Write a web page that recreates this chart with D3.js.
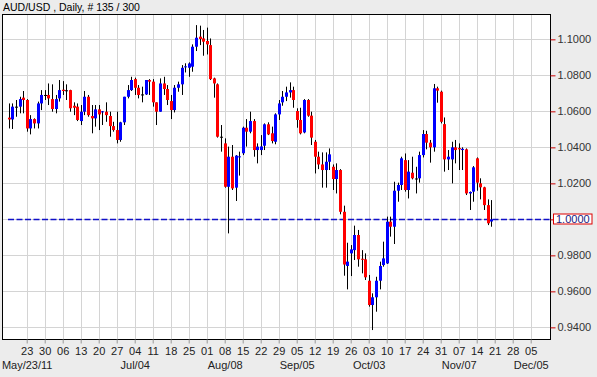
<!DOCTYPE html>
<html>
<head>
<meta charset="utf-8">
<script src="https://cdn.jsdelivr.net/npm/d3@7"></script>
<style>
  body { margin: 0; background: #ececec; }
  text { font-family: 'Liberation Sans', Arial, sans-serif; font-size: 11px; }
</style>
</head>
<body>
<div id="chart"></div>
<script>
const title = 'AUD/USD , Daily, # 135 / 300';
const firstDay = '2011-05-16';
const priceTicks = [0.94, 0.96, 0.98, 1.00, 1.02, 1.04, 1.06, 1.08, 1.10];
const bidPrice = 1.0000;
const majorLabels = ['May/23/11', 'Jul/04', 'Aug/08', 'Sep/05', 'Oct/03', 'Nov/07', 'Dec/05'];

// daily bars, one per weekday from May 16 to Nov 18
const open = [
  1.0565, 1.0555, 1.0626, 1.0626, 1.0676, 1.0663, 1.0505, 1.0557, 1.0533, 1.0644,
  1.0691, 1.0691, 1.0668, 1.0613, 1.0672, 1.0720, 1.0717, 1.0718, 1.0631, 1.0626,
  1.0546, 1.0598, 1.0681, 1.0574, 1.0561, 1.0611, 1.0596, 1.0598, 1.0574, 1.0518,
  1.0496, 1.0441, 1.0539, 1.0681, 1.0718, 1.0779, 1.0731, 1.0694, 1.0694, 1.0774,
  1.0765, 1.0650, 1.0598, 1.0755, 1.0724, 1.0657, 1.0607, 1.0731, 1.0750, 1.0846,
  1.0842, 1.0848, 1.0959, 1.1015, 1.1005, 1.0991, 1.0968, 1.0783, 1.0750, 1.0459,
  1.0422, 1.0181, 1.0348, 1.0176, 1.0346, 1.0367, 1.0509, 1.0487, 1.0546, 1.0385,
  1.0385, 1.0409, 1.0528, 1.0478, 1.0431, 1.0583, 1.0650, 1.0681, 1.0705, 1.0718,
  1.0602, 1.0552, 1.0483, 1.0663, 1.0576, 1.0431, 1.0348, 1.0305, 1.0274, 1.0320,
  1.0292, 1.0224, 1.0274, 1.0042, 0.9741, 0.9811, 0.9829, 0.9913, 0.9781, 0.9778,
  0.9659, 0.9524, 0.9567, 0.9659, 0.9746, 0.9755, 0.9987, 0.9959, 1.0159, 1.0191,
  1.0329, 1.0163, 1.0259, 1.0227, 1.0228, 1.0357, 1.0474, 1.0426, 1.0400, 1.0728,
  1.0709, 1.0529, 1.0333, 1.0333, 1.0400, 1.0396, 1.0385, 1.0389, 1.0144, 1.0154,
  1.0339, 1.0200, 1.0178, 1.0079, 0.9988
];
const high = [
  1.0644, 1.0644, 1.0663, 1.0681, 1.0713, 1.0668, 1.0579, 1.0561, 1.0654, 1.0718,
  1.0718, 1.0755, 1.0750, 1.0691, 1.0774, 1.0768, 1.0750, 1.0720, 1.0650, 1.0644,
  1.0635, 1.0713, 1.0691, 1.0635, 1.0635, 1.0635, 1.0602, 1.0650, 1.0598, 1.0542,
  1.0598, 1.0542, 1.0681, 1.0746, 1.0792, 1.0787, 1.0746, 1.0737, 1.0774, 1.0779,
  1.0779, 1.0650, 1.0783, 1.0792, 1.0746, 1.0691, 1.0746, 1.0765, 1.0857, 1.0867,
  1.0872, 1.0972, 1.1079, 1.1076, 1.1052, 1.1065, 1.1005, 1.0787, 1.0755, 1.0524,
  1.0450, 1.0404, 1.0413, 1.0357, 1.0376, 1.0515, 1.0557, 1.0598, 1.0557, 1.0422,
  1.0468, 1.0533, 1.0539, 1.0515, 1.0589, 1.0663, 1.0713, 1.0737, 1.0761, 1.0737,
  1.0617, 1.0620, 1.0668, 1.0668, 1.0598, 1.0441, 1.0376, 1.0372, 1.0372, 1.0394,
  1.0305, 1.0311, 1.0279, 1.0076, 0.9870, 0.9857, 0.9965, 0.9941, 0.9829, 0.9811,
  0.9691, 0.9589, 0.9681, 0.9765, 0.9876, 1.0015, 1.0015, 1.0209, 1.0204, 1.0348,
  1.0366, 1.0329, 1.0348, 1.0292, 1.0376, 1.0496, 1.0492, 1.0441, 1.0752, 1.0737,
  1.0715, 1.0566, 1.0385, 1.0431, 1.0441, 1.0422, 1.0400, 1.0394, 1.0155, 1.0296,
  1.0344, 1.0228, 1.0181, 1.0111, 1.0107
];
const low = [
  1.0505, 1.0502, 1.0570, 1.0589, 1.0589, 1.0487, 1.0472, 1.0505, 1.0505, 1.0607,
  1.0663, 1.0635, 1.0598, 1.0589, 1.0654, 1.0691, 1.0663, 1.0598, 1.0579, 1.0546,
  1.0524, 1.0579, 1.0570, 1.0478, 1.0515, 1.0496, 1.0524, 1.0542, 1.0459, 1.0487,
  1.0422, 1.0431, 1.0524, 1.0672, 1.0713, 1.0691, 1.0672, 1.0650, 1.0691, 1.0691,
  1.0626, 1.0524, 1.0598, 1.0691, 1.0635, 1.0557, 1.0594, 1.0709, 1.0691, 1.0816,
  1.0792, 1.0820, 1.0935, 1.0968, 1.0909, 1.0916, 1.0774, 1.0676, 1.0454, 1.0376,
  1.0176, 0.9922, 1.0163, 1.0102, 1.0243, 1.0357, 1.0404, 1.0478, 1.0348, 1.0311,
  1.0357, 1.0385, 1.0468, 1.0422, 1.0417, 1.0552, 1.0631, 1.0657, 1.0676, 1.0620,
  1.0509, 1.0472, 1.0478, 1.0570, 1.0413, 1.0255, 1.0279, 1.0176, 1.0176, 1.0274,
  1.0163, 1.0144, 1.0028, 0.9687, 0.9611, 0.9685, 0.9774, 0.9737, 0.9700, 0.9663,
  0.9515, 0.9385, 0.9487, 0.9611, 0.9737, 0.9752, 0.9904, 0.9863, 1.0098, 1.0163,
  1.0154, 1.0116, 1.0222, 1.0144, 1.0204, 1.0344, 1.0389, 1.0315, 1.0376, 1.0648,
  1.0533, 1.0265, 1.0274, 1.0200, 1.0311, 1.0274, 1.0274, 1.0135, 1.0052, 1.0098,
  1.0159, 1.0111, 1.0052, 0.9968, 0.9959
];
const close = [
  1.0555, 1.0626, 1.0626, 1.0668, 1.0663, 1.0505, 1.0557, 1.0533, 1.0644, 1.0691,
  1.0691, 1.0672, 1.0613, 1.0668, 1.0718, 1.0713, 1.0717, 1.0617, 1.0620, 1.0552,
  1.0598, 1.0681, 1.0579, 1.0561, 1.0611, 1.0583, 1.0600, 1.0579, 1.0518, 1.0496,
  1.0441, 1.0539, 1.0681, 1.0718, 1.0774, 1.0731, 1.0691, 1.0694, 1.0774, 1.0765,
  1.0650, 1.0598, 1.0755, 1.0724, 1.0663, 1.0607, 1.0731, 1.0750, 1.0842, 1.0850,
  1.0866, 1.0959, 1.1009, 1.1002, 1.0987, 1.0972, 1.0779, 1.0755, 1.0459, 1.0459,
  1.0181, 1.0348, 1.0172, 1.0354, 1.0350, 1.0509, 1.0487, 1.0546, 1.0385, 1.0404,
  1.0405, 1.0528, 1.0472, 1.0435, 1.0583, 1.0644, 1.0681, 1.0705, 1.0718, 1.0663,
  1.0552, 1.0478, 1.0663, 1.0576, 1.0454, 1.0348, 1.0305, 1.0274, 1.0320, 1.0361,
  1.0224, 1.0274, 1.0042, 0.9749, 0.9765, 0.9833, 0.9913, 0.9778, 0.9776, 0.9678,
  0.9524, 0.9567, 0.9659, 0.9741, 0.9783, 0.9987, 0.9959, 1.0159, 1.0191, 1.0339,
  1.0163, 1.0265, 1.0228, 1.0227, 1.0357, 1.0474, 1.0426, 1.0400, 1.0728, 1.0715,
  1.0542, 1.0333, 1.0348, 1.0400, 1.0385, 1.0389, 1.0392, 1.0144, 1.0152, 1.0289,
  1.0204, 1.0178, 1.0079, 0.9978, 1.0000
];

const width = 597;
const height = 377;
const plot = { left: 2.5, right: 550.5, top: 14.5, bottom: 339.5 };

const bars = close.map((c, i) => ({ i, o: open[i], h: high[i], l: low[i], c }));

// trading calendar: weekdays only, running past the last bar for the Dec tick
const start = d3.timeParse('%Y-%m-%d')(firstDay);
const days = d3.timeDay.range(start, d3.timeDay.offset(start, 220))
  .filter(d => d.getDay() > 0 && d.getDay() < 6);

const x = d3.scaleLinear()
  .domain([0, bars.length - 1])
  .range([8.7, 491.1]);

const y = d3.scaleLinear()
  .domain([0.93325, 1.11380])
  .range([plot.bottom, plot.top]);

// Mondays, May 23 .. Dec 05
const weekTicks = d3.range(5, 146, 5);
const fmtDay = d3.timeFormat('%d');
const fmtMajor = d3.timeFormat('%b/%d');
const fmtFirst = d3.timeFormat('%b/%d/%y');

const svg = d3.select('#chart')
  .append('svg')
  .attr('width', width)
  .attr('height', height);

svg.append('rect')
  .attr('width', width)
  .attr('height', height)
  .attr('fill', '#ececec');

svg.append('rect')
  .attr('x', plot.left)
  .attr('y', plot.top)
  .attr('width', plot.right - plot.left)
  .attr('height', plot.bottom - plot.top)
  .attr('fill', '#ffffff');

// grid
svg.append('g')
  .selectAll('line')
  .data(priceTicks)
  .enter()
  .append('line')
  .attr('x1', plot.left)
  .attr('x2', plot.right)
  .attr('y1', d => Math.round(y(d)) + 0.5)
  .attr('y2', d => Math.round(y(d)) + 0.5)
  .style('stroke', '#d4d4d4')
  .style('stroke-width', '1px');

svg.append('g')
  .selectAll('line')
  .data(weekTicks)
  .enter()
  .append('line')
  .attr('x1', d => Math.round(x(d)) + 0.5)
  .attr('x2', d => Math.round(x(d)) + 0.5)
  .attr('y1', plot.top)
  .attr('y2', plot.bottom)
  .style('stroke', '#d4d4d4')
  .style('stroke-width', '1px');

// bid line
svg.append('line')
  .attr('x1', 8)
  .attr('x2', plot.right)
  .attr('y1', Math.round(y(bidPrice)) + 0.5)
  .attr('y2', Math.round(y(bidPrice)) + 0.5)
  .style('stroke', '#1010c8')
  .style('stroke-width', '1.3px')
  .style('stroke-dasharray', '6,2.5');

// candles
const candle = svg.append('g')
  .selectAll('g')
  .data(bars)
  .enter()
  .append('g');

candle.append('line')
  .attr('x1', d => Math.round(x(d.i)) + 0.5)
  .attr('x2', d => Math.round(x(d.i)) + 0.5)
  .attr('y1', d => y(d.h))
  .attr('y2', d => y(d.l))
  .style('stroke', '#000')
  .style('stroke-width', '1px');

candle.append('rect')
  .attr('x', d => Math.round(x(d.i)) - 1)
  .attr('width', 3)
  .attr('y', d => y(Math.max(d.o, d.c)))
  .attr('height', d => Math.max(1, Math.abs(y(d.o) - y(d.c))))
  .attr('fill', d => d.c > d.o ? '#0000ff' : (d.c < d.o ? '#ff0000' : '#000'));

// frame
svg.append('rect')
  .attr('x', plot.left)
  .attr('y', plot.top)
  .attr('width', plot.right - plot.left)
  .attr('height', plot.bottom - plot.top)
  .attr('fill', 'none')
  .style('stroke', '#000')
  .style('stroke-width', '1px');

// right price axis
const yAxis = svg.append('g')
  .attr('transform', 'translate(' + plot.right + ',0)')
  .call(d3.axisRight(y).tickValues(priceTicks).tickFormat(d3.format('.4f')).tickSize(5).tickPadding(2));
yAxis.select('.domain').remove();
yAxis.selectAll('.tick line').attr('stroke', '#cc0000');
yAxis.selectAll('.tick text')
  .attr('fill', '#333')
  .style('font-size', '11px')
  .style('font-family', "'Liberation Sans', Arial, sans-serif");

// bid price box
const bidY = Math.round(y(bidPrice));
yAxis.append('rect')
  .attr('x', 3)
  .attr('y', bidY - 5)
  .attr('width', 38.5)
  .attr('height', 10)
  .attr('fill', '#ffffff')
  .style('stroke', '#dd0000')
  .style('stroke-width', '1px');
yAxis.append('text')
  .attr('x', 5.5)
  .attr('y', bidY + 4)
  .attr('fill', '#202080')
  .text(d3.format('.4f')(bidPrice));

// bottom date axis
const xAxis = svg.append('g')
  .attr('transform', 'translate(0,' + plot.bottom + ')')
  .call(d3.axisBottom(x).tickValues(weekTicks).tickFormat(i => fmtDay(days[i])).tickSize(4));
xAxis.select('.domain').remove();
xAxis.selectAll('.tick line').attr('stroke', '#999');
xAxis.selectAll('.tick text')
  .attr('y', 7.5)
  .attr('fill', '#222')
  .style('font-size', '11px')
  .style('font-family', "'Liberation Sans', Arial, sans-serif");

const majors = weekTicks.filter(i =>
  majorLabels.includes(fmtFirst(days[i])) || majorLabels.includes(fmtMajor(days[i])));

svg.append('g')
  .selectAll('text')
  .data(majors)
  .enter()
  .append('text')
  .attr('x', d => x(d) + 0.5)
  .attr('y', 369)
  .attr('text-anchor', 'middle')
  .attr('fill', '#222')
  .text(d => majorLabels.includes(fmtFirst(days[d])) ? fmtFirst(days[d]) : fmtMajor(days[d]));

// title
svg.append('text')
  .attr('x', 3)
  .attr('y', 10.5)
  .attr('fill', '#000')
  .style('font-size', '10.5px')
  .text(title);
</script>
</body>
</html>
